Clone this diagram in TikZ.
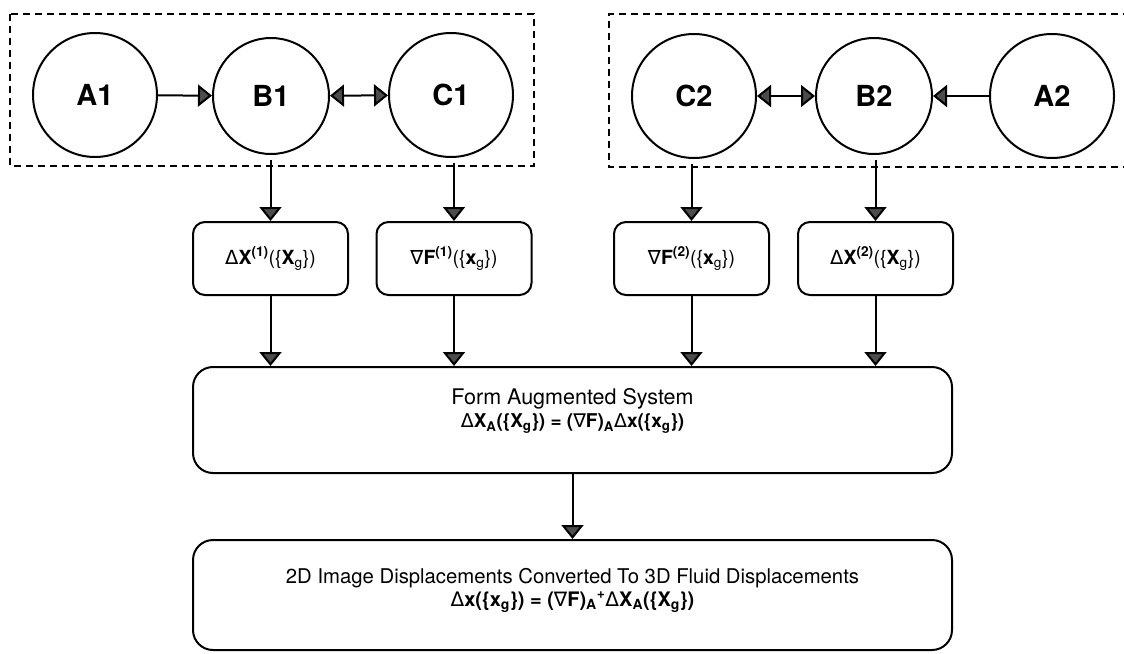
\documentclass[tikz,border=0pt]{standalone}
\usepackage{fontspec}
\setmainfont{TeX Gyre Heros}
\newfontfamily\symfont{DejaVu Sans}
\usetikzlibrary{arrows.meta}
\newcommand{\Dl}{{\symfont\mdseries Δ}}
\newcommand{\Nb}{{\symfont\mdseries ∇}}

\begin{document}
\begin{tikzpicture}[x=1pt, y=-1pt,
    state/.style={draw, circle, line width=2pt, minimum size=124pt, inner sep=0pt,
        font=\fontsize{29}{33}\selectfont\bfseries},
    termbox/.style={draw, rounded corners=12pt, line width=2pt, minimum width=155pt,
        minimum height=73pt, inner sep=0pt, font=\fontsize{19.5}{23}\selectfont},
    sysbox/.style={draw, rounded corners=20pt, line width=2pt, minimum width=759pt},
    flow/.style={-{Triangle[width=22pt,length=14pt,fill=black!70]}, line width=2pt},
    both/.style={{Triangle[width=22pt,length=14pt,fill=black!70]}-{Triangle[width=22pt,length=14pt,fill=black!70]}, line width=2pt},
    frame/.style={line width=1.6pt, dash pattern=on 7pt off 5pt}]
    \useasboundingbox (0,0) rectangle (1124,653);

    % the two camera groups
    \node[state] (A1) at (95,95) {A1};
    \node[state, minimum size=116pt] (B1) at (271,96) {B1};
    \node[state] (C1) at (451,95) {C1};
    \node[state] (C2) at (694,96) {C2};
    \node[state, minimum size=116pt] (B2) at (874,96) {B2};
    \node[state] (A2) at (1052,96) {A2};
    \draw[frame] (10,14) rectangle (534,166);
    \draw[frame] (1130,14) -- (609,14) -- (609,167) -- (1130,167);

    \draw[flow] (A1) -- (B1);
    \draw[both] (B1) -- (C1);
    \draw[both] (C2) -- (B2);
    \draw[flow] (A2) -- (B2);

    % per-camera terms
    \node[termbox] (dX1) at (270.5,258.5) {\Dl\textbf{X}\textsuperscript{\textbf{(1)}}(\{\textbf{X}\textsubscript{g}\})};
    \node[termbox] (gF1) at (454,258.5) {\Nb\textbf{F}\textsuperscript{\textbf{(1)}}(\{\textbf{x}\textsubscript{g}\})};
    \node[termbox] (gF2) at (691.5,258.5) {\Nb\textbf{F}\textsuperscript{\textbf{(2)}}(\{\textbf{x}\textsubscript{g}\})};
    \node[termbox] (dX2) at (875.5,258.5) {\Dl\textbf{X}\textsuperscript{\textbf{(2)}}(\{\textbf{X}\textsubscript{g}\})};

    \draw[flow, shorten <=5pt] (dX1.north |- B1.south) -- (dX1.north);
    \draw[flow, shorten <=5pt] (gF1.north |- C1.south) -- (gF1.north);
    \draw[flow, shorten <=5pt] (gF2.north |- C2.south) -- (gF2.north);
    \draw[flow, shorten <=5pt] (dX2.north |- B2.south) -- (dX2.north);

    % augmented system and solution
    \node[sysbox, minimum height=106pt] (aug) at (572.5,420) {};
    \node[align=center, font=\fontsize{21.5}{23}\selectfont] (augtxt) at ([yshift=9pt]aug.center)
        {Form Augmented System\\
         \fontsize{19}{23}\selectfont\textbf{\Dl X\textsubscript{A}(\{X\textsubscript{g}\}) = (\Nb F)\textsubscript{A}\Dl x(\{x\textsubscript{g}\})}};
    \node[sysbox, minimum height=110pt] (disp) at (572.5,595) {};
    \node[align=center, font=\fontsize{20.3}{23}\selectfont] (disptxt) at ([yshift=5pt]disp.center)
        {2D Image Displacements Converted To 3D Fluid Displacements\\
         \fontsize{20}{23}\selectfont\textbf{\Dl x(\{x\textsubscript{g}\}) = (\Nb F)\textsubscript{A}\textsuperscript{+}\Dl X\textsubscript{A}(\{X\textsubscript{g}\})}};

    \draw[flow] (dX1.south) -- (dX1.south |- aug.north);
    \draw[flow] (gF1.south) -- (gF1.south |- aug.north);
    \draw[flow] (gF2.south) -- (gF2.south |- aug.north);
    \draw[flow] (dX2.south) -- (dX2.south |- aug.north);
    \draw[flow] (aug) -- (disp);
\end{tikzpicture}
\end{document}
